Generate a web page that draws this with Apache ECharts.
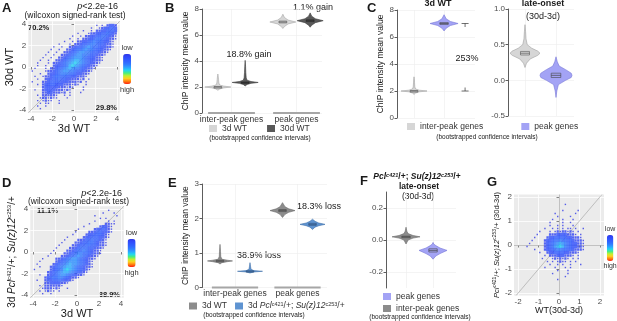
<!DOCTYPE html>
<html>
<head>
<meta charset="utf-8">
<title>ChIP intensity panels</title>
<script src="https://cdn.jsdelivr.net/npm/echarts@6/dist/echarts.min.js"></script>
<style>
  html, body { margin: 0; padding: 0; background: #fff; }
  #chart { width: 617px; height: 321px; }
</style>
</head>
<body>
<div id="chart"></div>
<script>
// ---------- data ----------
const geneSets = ['inter-peak genes', 'peak genes'];
const scatterTicks = [-4, -2, 0, 2, 4];
const scatterTicksG = [-2, -1, 0, 1, 2];
const ticksF = [-0.2, 0, 0.2];

// density rasters, top row first; '.' no points, '1' sparse points, '2'..'9' point density
// A and D: cells of 0.25 from x=-4, y=4.  G: cells of 0.125 from x=-2, y=2
const densityA = [
  '........................1.1.2332',
  '......................1..1233443',
  '...................1..1.22334443',
  '.................1...12233445432',
  '...............1..1.223344554321',
  '..............1..1.2233455543221',
  '............1..1.22334565543321',
  '..........1...1.223445665443221',
  '........1..1..22344567655433221',
  '.......1..1..22345567665443221',
  '......1..1..22345677665443221',
  '.....1..1..22345677665443221',
  '....1..1..22345677765443221',
  '...1..1..223456788765433221',
  '..1...1.223456789876543221',
  '..1..1..23345689876543221',
  '.1...1.22345678766543221',
  '1....122345677665443221',
  '...1..2334566655433221',
  '.1..12234555544332221',
  '..1..233445443322212.1',
  '1...223444433322212.1',
  '..1.23344333222121..1',
  '....233333222121...1',
  '.1..23333222121....1',
  '....223322212.1...1',
  '..1.222221..1.1',
  '...1221211...1',
  '..1.1211..1',
  '...1.11...1',
  '..1..1',
  '...1'
];
const densityD = [
  '...........................1',
  '.........................1...1',
  '......................1.......1',
  '........................1.1',
  '......................1....1.1',
  '....................1.....2211',
  '..................1.....23321',
  '................1.....2334321',
  '...............1....223443321',
  '..............1....233444321',
  '............1.....2334443321',
  '...........1....22344544321',
  '..........1....223445543221',
  '.........1....2234455443221',
  '........1....2234555443221',
  '.......1....2234556543221',
  '......1....22345665543221',
  '.....1....22345676543221',
  '...1....223456776543221',
  '..1.....23456777654321',
  '.1.....234567877654321',
  '..1...2345678876543221',
  '1.....234568987654321',
  '.....234567887654321',
  '..1..23456776543221',
  '....2345566543221',
  '.1..23344543321',
  '....223333221',
  '..1.2222221',
  '...1222121..1',
  '..1.1211.1',
  '...1..1'
];
const densityG = [
  '',
  '',
  '..................1',
  '',
  '.................1.....1',
  '..............1.......1',
  '...............1....1',
  '.............1...1...1',
  '............1....1..1',
  '............1..1.1...1',
  '..........1..1.1.1.11.1..1',
  '........1...1.12122121.1',
  '.......1....22233332221.1',
  '......1....23344444332221',
  '.....1....2334556554432221',
  '....1.....2345678765433221',
  '...1......2345789865433221',
  '......1...2334566554432221',
  '........1..2334444332221',
  '..........1.2223332221.1',
  '.........1...1212121.1.1',
  '...........1.1.1211.1.1',
  '............1..1.1..1...1',
  '..........1...1...1.1',
  '...............1...1',
  '.............1.....1',
  '..................1',
  '...............1'
];
// identity reference lines (axis extents)
const diagAD = [-4.25, 4.25];
const diagG = [-2.1, 2.1];

// violins: profile [value, relative half-width] per gene set, box [q1, median, q3]
const bShape3d = [
  [[1.75, 0], [1.85, 0.15], [1.93, 0.45], [2.0, 1], [2.07, 0.45], [2.15, 0.15], [2.3, 0.08], [2.6, 0.05], [2.9, 0.02], [3.0, 0]],
  [[6.5, 0], [6.65, 0.12], [6.85, 0.4], [7.0, 1], [7.15, 0.4], [7.35, 0.12], [7.6, 0]]
];
const bBox3d = [[1.97, 2.0, 2.03], [6.93, 7.0, 7.07]];
const bShape30d = [
  [[2.08, 0], [2.2, 0.15], [2.28, 0.45], [2.35, 1], [2.42, 0.45], [2.52, 0.15], [2.7, 0.08], [3.1, 0.05], [3.6, 0.03], [4.05, 0]],
  [[6.6, 0], [6.75, 0.12], [6.95, 0.4], [7.1, 1], [7.25, 0.4], [7.45, 0.12], [7.7, 0]]
];
const bBox30d = [[2.32, 2.35, 2.38], [7.03, 7.1, 7.17]];

const cLeftInter = [[[1.75, 0], [1.85, 0.12], [1.94, 0.4], [2.0, 1], [2.06, 0.4], [2.15, 0.12], [2.3, 0.06], [2.6, 0.04], [2.9, 0.02], [3.05, 0]]];
const cLeftInterBox = [[1.97, 2.0, 2.03]];
const cLeftPeak = [[[6.45, 0], [6.65, 0.15], [6.85, 0.45], [7.0, 1], [7.15, 0.45], [7.35, 0.15], [7.65, 0]]];
const cLeftPeakBox = [[6.93, 7.0, 7.07]];
const cRatioEnds = [2.0, 7.0];

const cRightInter = [[[0.18, 0], [0.24, 0.1], [0.3, 0.35], [0.35, 0.85], [0.38, 1], [0.41, 0.85], [0.45, 0.45], [0.5, 0.15], [0.58, 0.07], [0.68, 0.04], [0.78, 0]]];
const cRightInterBox = [[0.355, 0.38, 0.405]];
const cRightPeak = [[[-0.24, 0], [-0.15, 0.05], [-0.06, 0.15], [0.0, 0.6], [0.04, 0.95], [0.07, 1], [0.1, 0.95], [0.15, 0.6], [0.2, 0.2], [0.26, 0.08], [0.33, 0]]];
const cRightPeakBox = [[0.04, 0.07, 0.1]];

const eShapeWT = [
  [[0.68, 0], [0.72, 0.15], [0.75, 0.6], [0.77, 1], [0.79, 0.6], [0.82, 0.15], [0.9, 0.06], [1.05, 0.04], [1.25, 0]],
  [[2.03, 0], [2.12, 0.2], [2.18, 0.5], [2.23, 1], [2.28, 0.5], [2.34, 0.2], [2.46, 0]]
];
const eBoxWT = [[0.75, 0.77, 0.79], [2.2, 2.23, 2.26]];
const eShapeMut = [
  [[0.42, 0], [0.45, 0.3], [0.47, 1], [0.49, 0.3], [0.53, 0.08], [0.62, 0.04], [0.72, 0]],
  [[1.68, 0], [1.75, 0.2], [1.79, 0.5], [1.83, 1], [1.87, 0.5], [1.92, 0.2], [1.98, 0]]
];
const eBoxMut = [[0.455, 0.47, 0.485], [1.8, 1.83, 1.86]];

const fInter = [[[-0.025, 0], [0.0, 0.15], [0.012, 0.5], [0.02, 1], [0.028, 0.5], [0.04, 0.15], [0.055, 0.06], [0.08, 0]]];
const fInterBox = [[0.016, 0.02, 0.024]];
const fPeak = [[[-0.12, 0], [-0.1, 0.2], [-0.085, 0.5], [-0.065, 1], [-0.05, 0.5], [-0.035, 0.2], [-0.025, 0.05], [-0.015, 0]]];
const fPeakBox = [[-0.075, -0.065, -0.055]];

// ---------- helpers ----------
const FONT = 'Liberation Sans, Arial, sans-serif';
const INK = '#1a1a1a';
const ramp = ['#3038e8', '#3048fa', '#3058ff', '#3068ff', '#2f80ff', '#2aa6ff', '#22d6f0', '#48ee80', '#c0f030', '#ffd020', '#ff8010', '#ff2010'];
const GRAY_L = '#d6d6d6', GRAY_D = '#595959', GRAY_M = '#8c8c8c', PURPLE = '#a3a3f5', BLUE = '#5e93d1';

function decode(rows, x0, y0, cell) {
  const out = [];
  rows.forEach((row, r) => {
    for (let c = 0; c < row.length; c++) {
      if (row[c] === '.') continue;
      out.push([x0 + (c + 0.5) * cell, y0 - (r + 0.5) * cell, +row[c]]);
    }
  });
  return out;
}

const grids = [
  {left: 28.3, top: 21.3, width: 91.4, height: 91.4},   // A
  {left: 202, top: 9, width: 120, height: 104},          // B
  {left: 397, top: 10, width: 78, height: 108},          // C left
  {left: 508, top: 9, width: 66, height: 107},           // C right
  {left: 30.3, top: 206.3, width: 93.5, height: 91.4},   // D
  {left: 202, top: 184, width: 125, height: 103.5},      // E
  {left: 386, top: 192, width: 70, height: 96},          // F
  {left: 514, top: 194.5, width: 90, height: 101}        // G
];
[0, 4, 7].forEach(i => Object.assign(grids[i], {show: true, backgroundColor: '#ebebeb', borderWidth: 0}));

const tickLabel = {fontSize: 8, color: '#4d4d4d', fontFamily: FONT};
const supRich = {
  i: {fontStyle: 'italic'},
  s: {fontSize: 6, verticalAlign: 'top', lineHeight: 12}
};

function scatterAxis(grid, lim, ticks, extra) {
  return Object.assign({
    type: 'value', gridIndex: grid, min: -lim, max: lim,
    axisLine: {show: false},
    axisTick: {show: true, length: 2.5, lineStyle: {color: '#333', width: 0.6}, customValues: ticks},
    axisLabel: Object.assign({margin: 2, customValues: ticks}, tickLabel),
    splitLine: {show: true, lineStyle: {color: '#fff', width: 0.8}},
    nameLocation: 'middle',
    nameTextStyle: {fontSize: 11, color: INK, fontFamily: FONT, rich: supRich}
  }, extra);
}
function violinX(grid, min, max, labels, ticks) {
  return {
    type: 'value', gridIndex: grid, min, max,
    axisLine: {show: false},
    axisTick: {show: false, customValues: ticks},
    axisLabel: {show: labels, customValues: ticks, formatter: v => geneSets[v - 1], fontSize: 8.5, color: '#333', fontFamily: FONT, margin: 2},
    splitLine: {show: true, lineStyle: {color: '#ededed', width: 0.6}}
  };
}
function violinY(grid, min, max, interval, name, fmt, custom) {
  return {
    type: 'value', gridIndex: grid, min, max, interval,
    axisLine: {show: true, lineStyle: {color: '#333', width: 0.8}},
    axisTick: {show: true, length: 2.5, lineStyle: {color: '#333', width: 0.8}, customValues: custom},
    axisLabel: Object.assign({margin: 3, formatter: fmt, customValues: custom}, tickLabel),
    splitLine: {show: true, lineStyle: {color: '#ededed', width: 0.6}},
    name, nameLocation: 'middle', nameGap: 11,
    nameTextStyle: {fontSize: 8.5, color: INK, fontFamily: FONT}
  };
}

function densitySeries(grid, rows, x0, y0, cell, px, thin) {
  return {
    type: 'scatter', xAxisIndex: grid, yAxisIndex: grid, z: 2, silent: true,
    symbol: 'rect', symbolSize: v => (v[2] === 1 ? 1.4 : v[2] === 2 ? thin : px),
    data: decode(rows, x0, y0, cell)
  };
}
function diagSeries(grid, ends, extra) {
  return Object.assign({
    type: 'line', xAxisIndex: grid, yAxisIndex: grid, z: 1, silent: true,
    symbol: 'none', lineStyle: {color: '#a9a9a9', width: 0.7},
    data: ends.map(v => [v, v])
  }, extra);
}
function violinSeries(name, grid, cats, shapes, boxes, offset, halfPx, fill, stroke, boxStroke) {
  return {
    type: 'custom', name, xAxisIndex: grid, yAxisIndex: grid, z: 3, silent: true,
    itemStyle: {color: fill},
    data: cats.map((c, i) => [c + 1, boxes[i][1]]),
    renderItem(params, api) {
      const i = params.dataIndex;
      const x = api.value(0) + offset;
      const right = [], left = [];
      shapes[i].forEach(([v, w]) => {
        const p = api.coord([x, v]);
        right.push([p[0] + w * halfPx, p[1]]);
        left.unshift([p[0] - w * halfPx, p[1]]);
      });
      const lo = api.coord([x, boxes[i][0]]), md = api.coord([x, boxes[i][1]]), hi = api.coord([x, boxes[i][2]]);
      const bw = Math.max(3, halfPx * 0.3);
      return {type: 'group', children: [
        {type: 'polygon', shape: {points: right.concat(left)}, style: {fill, stroke, lineWidth: 0.6}},
        {type: 'rect', shape: {x: md[0] - bw, y: hi[1], width: bw * 2, height: Math.max(1.5, lo[1] - hi[1])},
          style: {fill: 'none', stroke: boxStroke, lineWidth: 0.6}},
        {type: 'line', shape: {x1: md[0] - bw, y1: md[1], x2: md[0] + bw, y2: md[1]}, style: {stroke: boxStroke, lineWidth: 0.7}}
      ]};
    }
  };
}
function catSegments(grid, half) {
  return {
    type: 'custom', xAxisIndex: grid, yAxisIndex: grid, z: 2, silent: true,
    data: geneSets.map((g, i) => [i + 1, 0]),
    renderItem(params, api) {
      const a = api.coord([api.value(0) - half, api.value(1)]);
      const b = api.coord([api.value(0) + half, api.value(1)]);
      return {type: 'line', shape: {x1: a[0], y1: a[1], x2: b[0], y2: b[1]}, style: {stroke: '#a6a6a6', lineWidth: 2}};
    }
  };
}
function colorBar(seriesIndex, left, top, w, h, fs) {
  return {
    type: 'continuous', seriesIndex, dimension: 2, min: 1, max: 16, inverse: true,
    calculable: false, hoverLink: false, inRange: {color: ramp},
    text: ['high', 'low'], textGap: 2, itemWidth: w, itemHeight: h, left, top, padding: 0,
    textStyle: {fontSize: fs, color: '#333', fontFamily: FONT}
  };
}
function txt(x, y, text, size, opts) {
  const style = Object.assign({
    text, fontSize: size, fontFamily: FONT, fontWeight: 'normal', fontStyle: 'normal', fill: INK,
    align: 'left', textAlign: 'left', verticalAlign: 'middle', textVerticalAlign: 'middle'
  }, opts || {});
  return {type: 'text', x, y, silent: true, style};
}
function part(size, weight, italic) {
  return {fontSize: size, fontFamily: FONT, fontWeight: weight || 'normal', fontStyle: italic ? 'italic' : 'normal', fill: INK};
}
const pValue = (x, y) => txt(x, y, '{i|p}<2.2e-16', 9, {align: 'right', textAlign: 'right',
  rich: {i: part(9, 'normal', true)}});

const legendBase = {
  icon: 'rect', itemWidth: 8, itemHeight: 7, padding: 0, selectedMode: false,
  itemStyle: {borderWidth: 0},
  textStyle: {fontSize: 8.5, color: '#333', fontFamily: FONT}
};
const mutLabel = '3d {i|Pcl}{s|c421}/+; {i|Su(z)12}{s|c253}/+';

const chart = echarts.init(document.getElementById('chart'));
chart.setOption({
  animation: false,
  grid: grids,
  xAxis: [
    scatterAxis(0, 4.25, scatterTicks, {name: '3d WT', nameGap: 9}),
    violinX(1, 0.546, 2.392, true, [1, 2]),
    violinX(2, 0.433, 3.03, false, [1, 2]),
    violinX(3, 0.452, 2.58, false, [1, 2]),
    scatterAxis(4, 4.25, scatterTicks, {name: '3d WT', nameGap: 9}),
    violinX(5, 0.472, 2.472, true, [1, 2]),
    violinX(6, 0.259, 2.85, false, [1, 2]),
    scatterAxis(7, 2.2, scatterTicksG, {name: 'WT(30d-3d)', nameGap: 7,
      nameTextStyle: {fontSize: 9, color: INK, fontFamily: FONT}})
  ],
  yAxis: [
    scatterAxis(0, 4.25, scatterTicks, {name: '30d WT', nameGap: 10}),
    violinY(1, 0, 8, 2, 'ChIP intensity mean value'),
    violinY(2, 0, 8, 2, 'ChIP intensity mean value'),
    violinY(3, -0.5, 1.0, 0.5, '', v => v.toFixed(1)),
    scatterAxis(4, 4.25, scatterTicks, {name: mutLabel, nameGap: 10,
      nameTextStyle: {fontSize: 10, color: INK, fontFamily: FONT, rich: {i: {fontStyle: 'italic', fontSize: 10}, s: {fontSize: 6, verticalAlign: 'top', lineHeight: 12}}}}),
    violinY(5, 0, 3, 1, 'ChIP intensity mean value'),
    violinY(6, -0.3, 0.3, undefined, '', v => v.toFixed(1), ticksF),
    scatterAxis(7, 2.1, scatterTicksG, {name: '{i|Pcl}{s|c421}/+; {i|Su(z)12}{s|c253}/+ (30d-3d)', nameGap: 9,
      nameTextStyle: {fontSize: 7.5, color: INK, fontFamily: FONT, rich: {i: {fontStyle: 'italic', fontSize: 7.5}, s: {fontSize: 5, verticalAlign: 'top', lineHeight: 10}}}})
  ],
  visualMap: [
    colorBar(0, 120, 44, 8, 30, 7.5),
    colorBar(1, 124.5, 229, 8, 28, 7.5),
    colorBar(2, 603.5, 226, 6.5, 26, 7)
  ],
  legend: [
    Object.assign({}, legendBase, {data: ['3d WT', '30d WT'], left: 209, top: 124, itemGap: 20}),
    Object.assign({}, legendBase, {data: ['inter-peak genes', 'peak genes'], left: 407, top: 122, itemGap: 38}),
    Object.assign({}, legendBase, {
      data: [{name: '3d WT', itemStyle: {color: GRAY_M}}, {name: 'mut3d', itemStyle: {color: BLUE}}],
      left: 189, top: 301, itemGap: 8,
      formatter: n => (n === 'mut3d' ? mutLabel : n),
      textStyle: {fontSize: 8.5, color: '#333', fontFamily: FONT,
        rich: {i: {fontStyle: 'italic', fontSize: 8.5}, s: {fontSize: 5.5, verticalAlign: 'top', lineHeight: 10}}}
    }),
    Object.assign({}, legendBase, {
      data: [{name: 'peak genes', itemStyle: {color: PURPLE}}, {name: 'inter-peak genes', itemStyle: {color: GRAY_M}}],
      orient: 'vertical', left: 383, top: 292, itemGap: 3
    })
  ],
  series: [
    densitySeries(0, densityA, -4, 4, 0.25, 3.0, 2.3),
    densitySeries(4, densityD, -4, 4, 0.25, 3.0, 2.3),
    densitySeries(7, densityG, -2, 2, 0.125, [2.9, 3.3], [2.2, 2.5]),
    diagSeries(0, diagAD),
    diagSeries(4, diagAD),
    diagSeries(7, diagG, {markLine: {silent: true, symbol: 'none', z: 1, label: {show: false},
      lineStyle: {color: '#b3b3b3', width: 0.8, type: 'solid'}, data: [{xAxis: 0}, {yAxis: 0}]}}),
    // B
    violinSeries('3d WT', 1, [0, 1], bShape3d, bBox3d, -0.21, 13, GRAY_L, '#a6a6a6', '#555'),
    violinSeries('30d WT', 1, [0, 1], bShape30d, bBox30d, 0.21, 13, GRAY_D, '#3a3a3a', '#222'),
    catSegments(1, 0.36),
    // C
    violinSeries('inter-peak genes', 2, [0], cLeftInter, cLeftInterBox, 0, 13, GRAY_L, '#a0a0a0', '#555'),
    violinSeries('peak genes', 2, [1], cLeftPeak, cLeftPeakBox, 0, 14, PURPLE, '#7575d6', '#444'),
    {
      type: 'custom', xAxisIndex: 2, yAxisIndex: 2, z: 3, silent: true, data: [cRatioEnds],
      renderItem(params, api) {
        const bracketX = 2.7;
        const lo = api.coord([bracketX, api.value(0)]), hi = api.coord([bracketX, api.value(1)]);
        const st = {stroke: '#333', lineWidth: 0.7};
        return {type: 'group', children: [
          {type: 'line', shape: {x1: hi[0] - 3.5, y1: hi[1], x2: hi[0] + 3.5, y2: hi[1]}, style: st},
          {type: 'line', shape: {x1: hi[0], y1: hi[1], x2: hi[0], y2: hi[1] + 3.5}, style: st},
          {type: 'line', shape: {x1: lo[0] - 3.5, y1: lo[1], x2: lo[0] + 3.5, y2: lo[1]}, style: st},
          {type: 'line', shape: {x1: lo[0], y1: lo[1], x2: lo[0], y2: lo[1] - 3.5}, style: st}
        ]};
      }
    },
    violinSeries('inter-peak genes', 3, [0], cRightInter, cRightInterBox, 0, 15, GRAY_L, '#a0a0a0', '#555'),
    violinSeries('peak genes', 3, [1], cRightPeak, cRightPeakBox, 0, 16, PURPLE, '#7575d6', '#444'),
    // E
    violinSeries('3d WT', 5, [0, 1], eShapeWT, eBoxWT, -0.24, 12.5, GRAY_M, '#6a6a6a', '#444'),
    violinSeries('mut3d', 5, [0, 1], eShapeMut, eBoxMut, 0.24, 12.5, BLUE, '#3f70aa', '#2d4f7a'),
    catSegments(5, 0.37),
    // F
    violinSeries('inter-peak genes', 6, [0], fInter, fInterBox, 0, 14, GRAY_M, '#6a6a6a', '#444'),
    violinSeries('peak genes', 6, [1], fPeak, fPeakBox, 0, 14, PURPLE, '#7575d6', '#444')
  ],
  graphic: [
    // panel letters
    txt(2, 8, 'A', 13, {fontWeight: 'bold'}),
    txt(165, 8, 'B', 13, {fontWeight: 'bold'}),
    txt(367, 8, 'C', 13, {fontWeight: 'bold'}),
    txt(2, 183, 'D', 13, {fontWeight: 'bold'}),
    txt(168, 183, 'E', 13, {fontWeight: 'bold'}),
    txt(360, 181, 'F', 13, {fontWeight: 'bold'}),
    txt(487, 182, 'G', 13, {fontWeight: 'bold'}),
    // A
    pValue(118, 6.5),
    txt(75, 16, '(wilcoxon signed-rank test)', 8.5, {align: 'center', textAlign: 'center'}),
    txt(28, 28, '70.2%', 7.5, {fontWeight: 'bold'}),
    txt(117, 108, '29.8%', 7.5, {fontWeight: 'bold', align: 'right', textAlign: 'right'}),
    // B
    txt(249, 55, '18.8% gain', 9, {align: 'center', textAlign: 'center'}),
    txt(293, 8, '1.1% gain', 9),
    txt(260, 138.5, '(bootstrapped confidence intervals)', 6.5, {align: 'center', textAlign: 'center'}),
    // C
    txt(438, 3.5, '3d WT', 9, {fontWeight: 'bold', align: 'center', textAlign: 'center'}),
    txt(543, 3.5, 'late-onset', 9, {fontWeight: 'bold', align: 'center', textAlign: 'center'}),
    txt(543, 16.5, '(30d-3d)', 9, {align: 'center', textAlign: 'center'}),
    txt(467, 59, '253%', 9, {align: 'center', textAlign: 'center'}),
    txt(487, 137, '(bootstrapped confidence intervals)', 6.5, {align: 'center', textAlign: 'center'}),
    // D
    pValue(122, 193.5),
    txt(78.5, 202, '(wilcoxon signed-rank test)', 8.5, {align: 'center', textAlign: 'center'}),
    txt(37, 211, '11.1%', 7.5, {fontWeight: 'bold'}),
    txt(120, 295, '88.9%', 7.5, {fontWeight: 'bold', align: 'right', textAlign: 'right'}),
    // E
    txt(237, 256, '38.9% loss', 9),
    txt(297, 207, '18.3% loss', 9),
    txt(254, 315, '(bootstrapped confidence intervals)', 6.5, {align: 'center', textAlign: 'center'}),
    // F
    txt(417, 177, '{bi|Pcl}{bs|c421}{b|/+; }{bi|Su(z)12}{bs|c253}{b|/+}', 8.5, {
      align: 'center', textAlign: 'center',
      rich: {b: part(8.5, 'bold'), bi: Object.assign(part(8.5, 'bold', true), {verticalAlign: 'bottom'}),
        bs: Object.assign(part(5.5, 'bold', true), {verticalAlign: 'top'})}
    }),
    txt(419, 186.5, 'late-onset', 8.5, {fontWeight: 'bold', align: 'center', textAlign: 'center'}),
    txt(418, 196.5, '(30d-3d)', 8.5, {align: 'center', textAlign: 'center'}),
    txt(420, 317, '(bootstrapped confidence intervals)', 6.5, {align: 'center', textAlign: 'center'})
  ]
});
</script>
</body>
</html>
